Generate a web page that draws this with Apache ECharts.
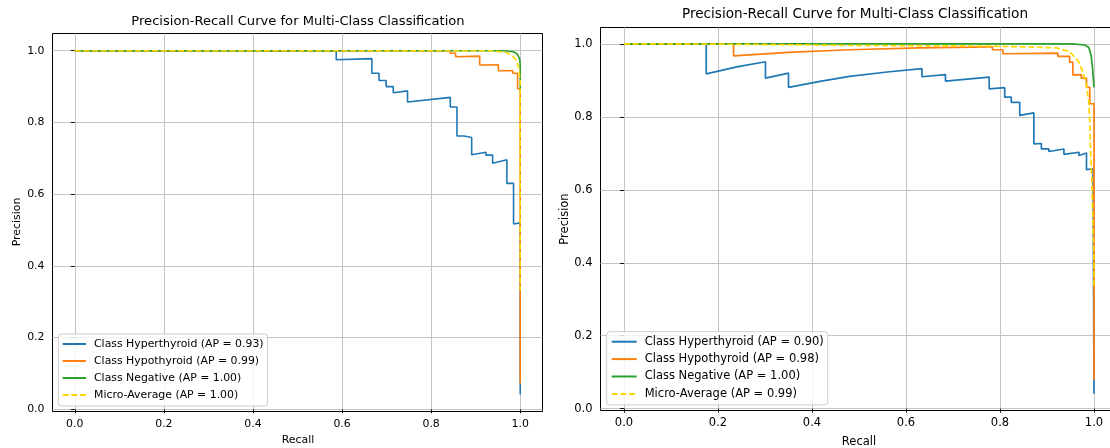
<!DOCTYPE html>
<html>
<head>
<meta charset="utf-8">
<script src="https://cdn.jsdelivr.net/npm/echarts@6/dist/echarts.min.js"></script>
<style>
html,body{margin:0;padding:0;background:#fff;}
#chart{width:1110px;height:448px;}
</style>
</head>
<body>
<div id="chart"></div>
<script>
// ---------- tick labels ----------
const xTicks = [0, 0.2, 0.4, 0.6, 0.8, 1.0];
const yTicks = [0, 0.2, 0.4, 0.6, 0.8, 1.0];

// ---------- left panel ----------
const leftNames = ['Class Hyperthyroid (AP = 0.93)', 'Class Hypothyroid (AP = 0.99)', 'Class Negative (AP = 1.00)', 'Micro-Average (AP = 1.00)'];
const leftHyperRecall    = [0, 0.587, 0.587, 0.667, 0.667, 0.683, 0.683, 0.699, 0.699, 0.715, 0.715, 0.747, 0.747, 0.843, 0.843, 0.858, 0.858, 0.874, 0.874, 0.891, 0.891, 0.923, 0.923, 0.938, 0.938, 0.970, 0.970, 0.985, 0.985, 1.0, 1.0];
const leftHyperPrecision = [1.0, 1.0, 0.975, 0.978, 0.937, 0.937, 0.917, 0.917, 0.900, 0.900, 0.883, 0.888, 0.857, 0.870, 0.843, 0.843, 0.762, 0.762, 0.758, 0.758, 0.710, 0.717, 0.709, 0.709, 0.686, 0.696, 0.630, 0.630, 0.517, 0.520, 0.042];
const leftHypoRecall     = [0, 0.843, 0.843, 0.855, 0.855, 0.909, 0.909, 0.951, 0.951, 0.983, 0.983, 0.994, 0.994, 1.0, 1.0];
const leftHypoPrecision  = [1.0, 1.0, 0.993, 0.993, 0.983, 0.985, 0.960, 0.961, 0.944, 0.945, 0.937, 0.937, 0.894, 0.894, 0.072];
const leftNegRecall      = [0, 0.962, 0.985, 0.994, 0.999, 1.0, 1.0];
const leftNegPrecision   = [1.0, 1.0, 0.997, 0.990, 0.976, 0.955, 0.890];
const leftMicroRecall    = [0, 0.933, 0.966, 0.981, 0.991, 0.996, 1.0, 1.0];
const leftMicroPrecision = [1.0, 1.0, 0.996, 0.987, 0.973, 0.955, 0.917, 0.333];

// ---------- right panel ----------
const rightNames = ['Class Hyperthyroid (AP = 0.90)', 'Class Hypothyroid (AP = 0.98)', 'Class Negative (AP = 1.00)', 'Micro-Average (AP = 0.99)'];
const rightHyperRecall    = [0, 0.175, 0.175, 0.24, 0.301, 0.301, 0.350, 0.350, 0.42, 0.48, 0.56, 0.634, 0.634, 0.684, 0.684, 0.777, 0.777, 0.810, 0.810, 0.824, 0.824, 0.842, 0.842, 0.872, 0.872, 0.888, 0.888, 0.904, 0.904, 0.936, 0.936, 0.968, 0.968, 0.984, 0.984, 0.998, 1.0, 1.0];
const rightHyperPrecision = [1.0, 1.0, 0.918, 0.937, 0.951, 0.906, 0.920, 0.881, 0.898, 0.911, 0.923, 0.932, 0.910, 0.916, 0.898, 0.909, 0.877, 0.880, 0.854, 0.854, 0.840, 0.840, 0.804, 0.811, 0.726, 0.727, 0.712, 0.712, 0.705, 0.712, 0.697, 0.703, 0.694, 0.701, 0.655, 0.658, 0.658, 0.041];
const rightHypoRecall     = [0, 0.233, 0.233, 0.35, 0.48, 0.63, 0.778, 0.784, 0.784, 0.806, 0.806, 0.923, 0.923, 0.948, 0.948, 0.955, 0.955, 0.973, 0.973, 0.984, 0.984, 0.991, 0.991, 1.0, 1.0];
const rightHypoPrecision  = [1.0, 1.0, 0.967, 0.977, 0.984, 0.989, 0.992, 0.992, 0.984, 0.984, 0.973, 0.975, 0.966, 0.966, 0.950, 0.950, 0.915, 0.916, 0.906, 0.906, 0.881, 0.881, 0.836, 0.836, 0.078];
const rightNegRecall      = [0, 0.955, 0.980, 0.989, 0.994, 0.997, 1.0];
const rightNegPrecision   = [1.0, 1.0, 0.997, 0.990, 0.968, 0.932, 0.881];
const rightMicroRecall    = [0, 0.143, 0.143, 0.5, 0.78, 0.85, 0.92, 0.948, 0.966, 0.977, 0.984, 0.989, 0.991, 0.993, 0.996, 0.998, 1.0, 1.0];
const rightMicroPrecision = [1.0, 1.0, 0.996, 0.996, 0.994, 0.992, 0.989, 0.979, 0.954, 0.922, 0.886, 0.840, 0.785, 0.700, 0.600, 0.500, 0.400, 0.333];

// ---------- styling ----------
const FONT = 'DejaVu Sans';
const COLORS = ['#1f77b4', '#ff7f0e', '#2ca02c', '#ffd700'];
const zip = (a, b) => a.map((v, i) => [v, b[i]]);

const panels = [
  { names: leftNames, grid: { left: 52.5, top: 33.5, width: 490, height: 378 },
    y: [-0.006, 1.048], fs: 10.9, lw: 1.6,
    data: [zip(leftHyperRecall, leftHyperPrecision), zip(leftHypoRecall, leftHypoPrecision), zip(leftNegRecall, leftNegPrecision), zip(leftMicroRecall, leftMicroPrecision)],
    legend: { left: 58.3, top: 334, padding: [3, 4, 4, 3.4], itemWidth: 23.3, lh: 14, gap: 3 } },
  { names: rightNames, grid: { left: 600.5, top: 27.5, width: 517, height: 383 },
    y: [-0.005, 1.045], fs: 11.5, lw: 1.7,
    data: [zip(rightHyperRecall, rightHyperPrecision), zip(rightHypoRecall, rightHypoPrecision), zip(rightNegRecall, rightNegPrecision), zip(rightMicroRecall, rightMicroPrecision)],
    legend: { left: 606.7, top: 331.7, padding: [2.8, 4, 3.8, 4], itemWidth: 25, lh: 14.4, gap: 3 } }
];

const grids = [], xAxes = [], yAxes = [], series = [], legends = [];
panels.forEach((p, gi) => {
  grids.push(Object.assign({ show: true, borderColor: '#000', borderWidth: 1, backgroundColor: 'transparent', containLabel: false, outerBoundsMode: 'none' }, p.grid));
  const common = (ticks) => ({
    gridIndex: gi, type: 'value',
    axisLine: { show: false },
    axisTick: { show: true, inside: false, length: 4, customValues: ticks, lineStyle: { color: '#000', width: 0.9 } },
    axisLabel: { show: true, customValues: ticks, fontFamily: FONT, fontSize: p.fs, color: '#000', formatter: v => v.toFixed(1) },
    splitLine: { show: true, customValues: ticks, lineStyle: { color: '#c4c4c4', width: 1 } }
  });
  const xa = common(xTicks); xa.min = -0.05; xa.max = 1.05; xa.axisLabel.margin = 7;
  const ya = common(yTicks); ya.min = p.y[0]; ya.max = p.y[1]; ya.axisLabel.margin = 8;
  xAxes.push(xa); yAxes.push(ya);
  p.data.forEach((d, si) => {
    series.push({
      name: p.names[si], type: 'line', xAxisIndex: gi, yAxisIndex: gi,
      data: d, symbol: 'none', showSymbol: false, clip: true, animation: false,
      z: 2 + si,
      lineStyle: { color: COLORS[si], width: p.lw, type: si === 3 ? [6, 2.6] : 'solid' },
      itemStyle: { color: COLORS[si] }
    });
  });
  legends.push({
    data: p.names, orient: 'vertical', left: p.legend.left, top: p.legend.top,
    padding: p.legend.padding, itemWidth: p.legend.itemWidth, itemHeight: p.legend.lh, itemGap: p.legend.gap,
    selectedMode: false,
    itemStyle: { opacity: 0, borderWidth: 0 },
    backgroundColor: 'rgba(255,255,255,0.8)', borderColor: '#cccccc', borderWidth: 1, borderRadius: 3,
    textStyle: { fontFamily: FONT, fontSize: p.fs, color: '#000', lineHeight: p.legend.lh, padding: [0, 0, 0, 3] }
  });
});

const txt = (text, x, y, size, rot) => ({
  type: 'text', x: x, y: y, rotation: rot || 0, silent: true,
  style: { text: text, fill: '#000', fontFamily: FONT, fontSize: size, align: 'center', verticalAlign: 'middle' }
});

const chart = echarts.init(document.getElementById('chart'), null, { renderer: 'canvas' });
chart.setOption({
  animation: false,
  backgroundColor: '#fff',
  grid: grids, xAxis: xAxes, yAxis: yAxes, series: series, legend: legends,
  graphic: [
    txt('Precision-Recall Curve for Multi-Class Classification', 298, 21.5, 13.1),
    txt('Precision-Recall Curve for Multi-Class Classification', 855, 14.5, 13.6),
    txt('Recall', 298, 440, 10.9),
    txt('Recall', 859, 442, 11.5),
    txt('Precision', 17.2, 222, 10.9, Math.PI / 2),
    txt('Precision', 565, 219, 11.5, Math.PI / 2)
  ]
});
</script>
</body>
</html>
